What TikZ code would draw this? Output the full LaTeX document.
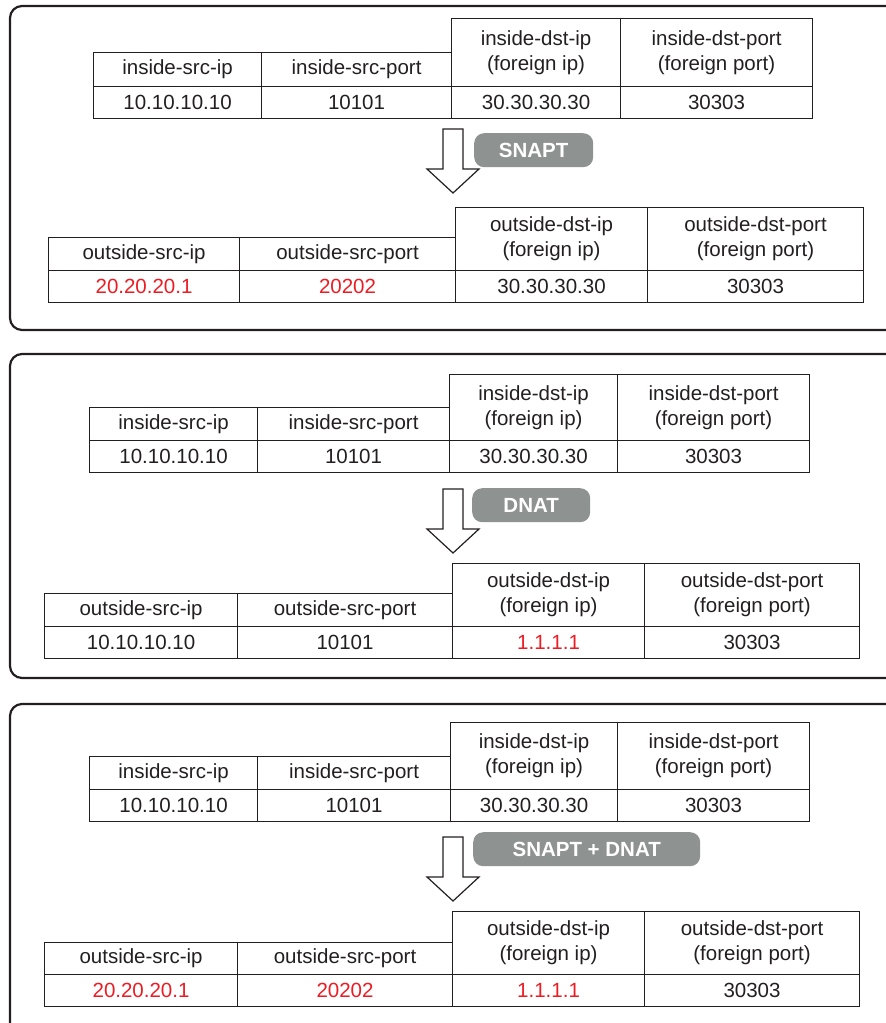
\documentclass[tikz,border=0pt]{standalone}
\usepackage{fontspec}
\setmainfont{Liberation Sans}
\usetikzlibrary{positioning}

\definecolor{ink}{HTML}{231F20}
\definecolor{natred}{HTML}{ED1C24}
\definecolor{natgray}{RGB}{142,146,144}

\begin{document}
\begin{tikzpicture}[
  x=1pt, y=-1pt,
  font=\fontsize{20.5}{25}\selectfont,
  panel/.style={
    draw=ink, line width=2.2pt, rounded corners=12pt
  },
  cell/.style={
    rectangle, draw=ink, line width=1.1pt,
    inner sep=0pt, text=ink, align=center
  },
  hd/.style={cell, anchor=north west},
  vl/.style={cell, anchor=north west, minimum height=32},
  tag/.style={
    rectangle, rounded corners=10pt, fill=natgray,
    text=white, font=\fontsize{20.5}{25}\selectfont\bfseries,
    inner sep=0pt, minimum height=34, anchor=north west
  },
  fat/.style={draw=ink, line width=1.2pt, fill=white, line join=miter}
]
\useasboundingbox (0,0) rectangle (886,1023);
\clip (0,0) rectangle (886,1023);

% ─── SNAPT ──────────────────────────────────────────────────
\draw[panel] (10,6) rectangle (910,330);

\foreach \x/\w/\yt/\txt/\val [count=\i] in {
  93/168/52/inside-src-ip/10.10.10.10,
  261/190/52/inside-src-port/10101,
  451/169/18/{inside-dst-ip\\(foreign ip)}/30.30.30.30,
  620/192/18/{inside-dst-port\\(foreign port)}/30303}
{
  \node[hd, minimum width=\w, minimum height=86-\yt] (ah\i) at (\x,\yt) {\txt};
  \node[vl, minimum width=\w] (av\i) at (\x,86) {\val};
}

\coordinate (a1) at (443,129);
\draw[fat] (a1) -- ++(20,0) -- ++(0,40) -- ++(16,0) -- ++(-26,24)
  -- ++(-26,-24) -- ++(16,0) -- cycle;
\node[tag, minimum width=119] (snapt) at (474,133) {SNAPT};

\foreach \x/\w/\yt/\txt/\val [count=\i] in {
  48/191/237/outside-src-ip/{\textcolor{natred}{20.20.20.1}},
  239/216/237/outside-src-port/{\textcolor{natred}{20202}},
  455/192/207/{outside-dst-ip\\(foreign ip)}/30.30.30.30,
  647/216/207/{outside-dst-port\\(foreign port)}/30303}
{
  \node[hd, minimum width=\w, minimum height=270-\yt] (bh\i) at (\x,\yt) {\txt};
  \node[vl, minimum width=\w] (bv\i) at (\x,270) {\val};
}

% ─── DNAT ───────────────────────────────────────────────────
\draw[panel] (10,354) rectangle (910,678);

\foreach \x/\w/\yt/\txt/\val [count=\i] in {
  89/168/407/inside-src-ip/10.10.10.10,
  257/192/407/inside-src-port/10101,
  449/168/374/{inside-dst-ip\\(foreign ip)}/30.30.30.30,
  617/192/374/{inside-dst-port\\(foreign port)}/30303}
{
  \node[hd, minimum width=\w, minimum height=440-\yt] (ch\i) at (\x,\yt) {\txt};
  \node[vl, minimum width=\w] (cv\i) at (\x,440) {\val};
}

\coordinate (a2) at (443,489);
\draw[fat] (a2) -- ++(20,0) -- ++(0,40) -- ++(16,0) -- ++(-26,24)
  -- ++(-26,-24) -- ++(16,0) -- cycle;
\node[tag, minimum width=118] (dnat) at (472,488) {DNAT};

\foreach \x/\w/\yt/\txt/\val [count=\i] in {
  44/193/593/outside-src-ip/10.10.10.10,
  237/215/593/outside-src-port/10101,
  452/192/563/{outside-dst-ip\\(foreign ip)}/{\textcolor{natred}{1.1.1.1}},
  644/215/563/{outside-dst-port\\(foreign port)}/30303}
{
  \node[hd, minimum width=\w, minimum height=626-\yt] (dh\i) at (\x,\yt) {\txt};
  \node[vl, minimum width=\w] (dv\i) at (\x,626) {\val};
}

% ─── SNAPT + DNAT ───────────────────────────────────────────
\draw[panel] (10,704) rectangle (910,1060);

\foreach \x/\w/\yt/\txt/\val [count=\i] in {
  89/168/756/inside-src-ip/10.10.10.10,
  257/193/756/inside-src-port/10101,
  450/167/722/{inside-dst-ip\\(foreign ip)}/30.30.30.30,
  617/192/722/{inside-dst-port\\(foreign port)}/30303}
{
  \node[hd, minimum width=\w, minimum height=789-\yt] (eh\i) at (\x,\yt) {\txt};
  \node[vl, minimum width=\w] (ev\i) at (\x,789) {\val};
}

\coordinate (a3) at (443,837);
\draw[fat] (a3) -- ++(20,0) -- ++(0,40) -- ++(16,0) -- ++(-26,24)
  -- ++(-26,-24) -- ++(16,0) -- cycle;
\node[tag, minimum width=227] (both) at (473,832) {SNAPT + DNAT};

\foreach \x/\w/\yt/\txt/\val [count=\i] in {
  44/193/942/outside-src-ip/{\textcolor{natred}{20.20.20.1}},
  237/215/942/outside-src-port/{\textcolor{natred}{20202}},
  452/192/911/{outside-dst-ip\\(foreign ip)}/{\textcolor{natred}{1.1.1.1}},
  644/215/911/{outside-dst-port\\(foreign port)}/30303}
{
  \node[hd, minimum width=\w, minimum height=974-\yt] (fh\i) at (\x,\yt) {\txt};
  \node[vl, minimum width=\w] (fv\i) at (\x,974) {\val};
}

\end{tikzpicture}
\end{document}
